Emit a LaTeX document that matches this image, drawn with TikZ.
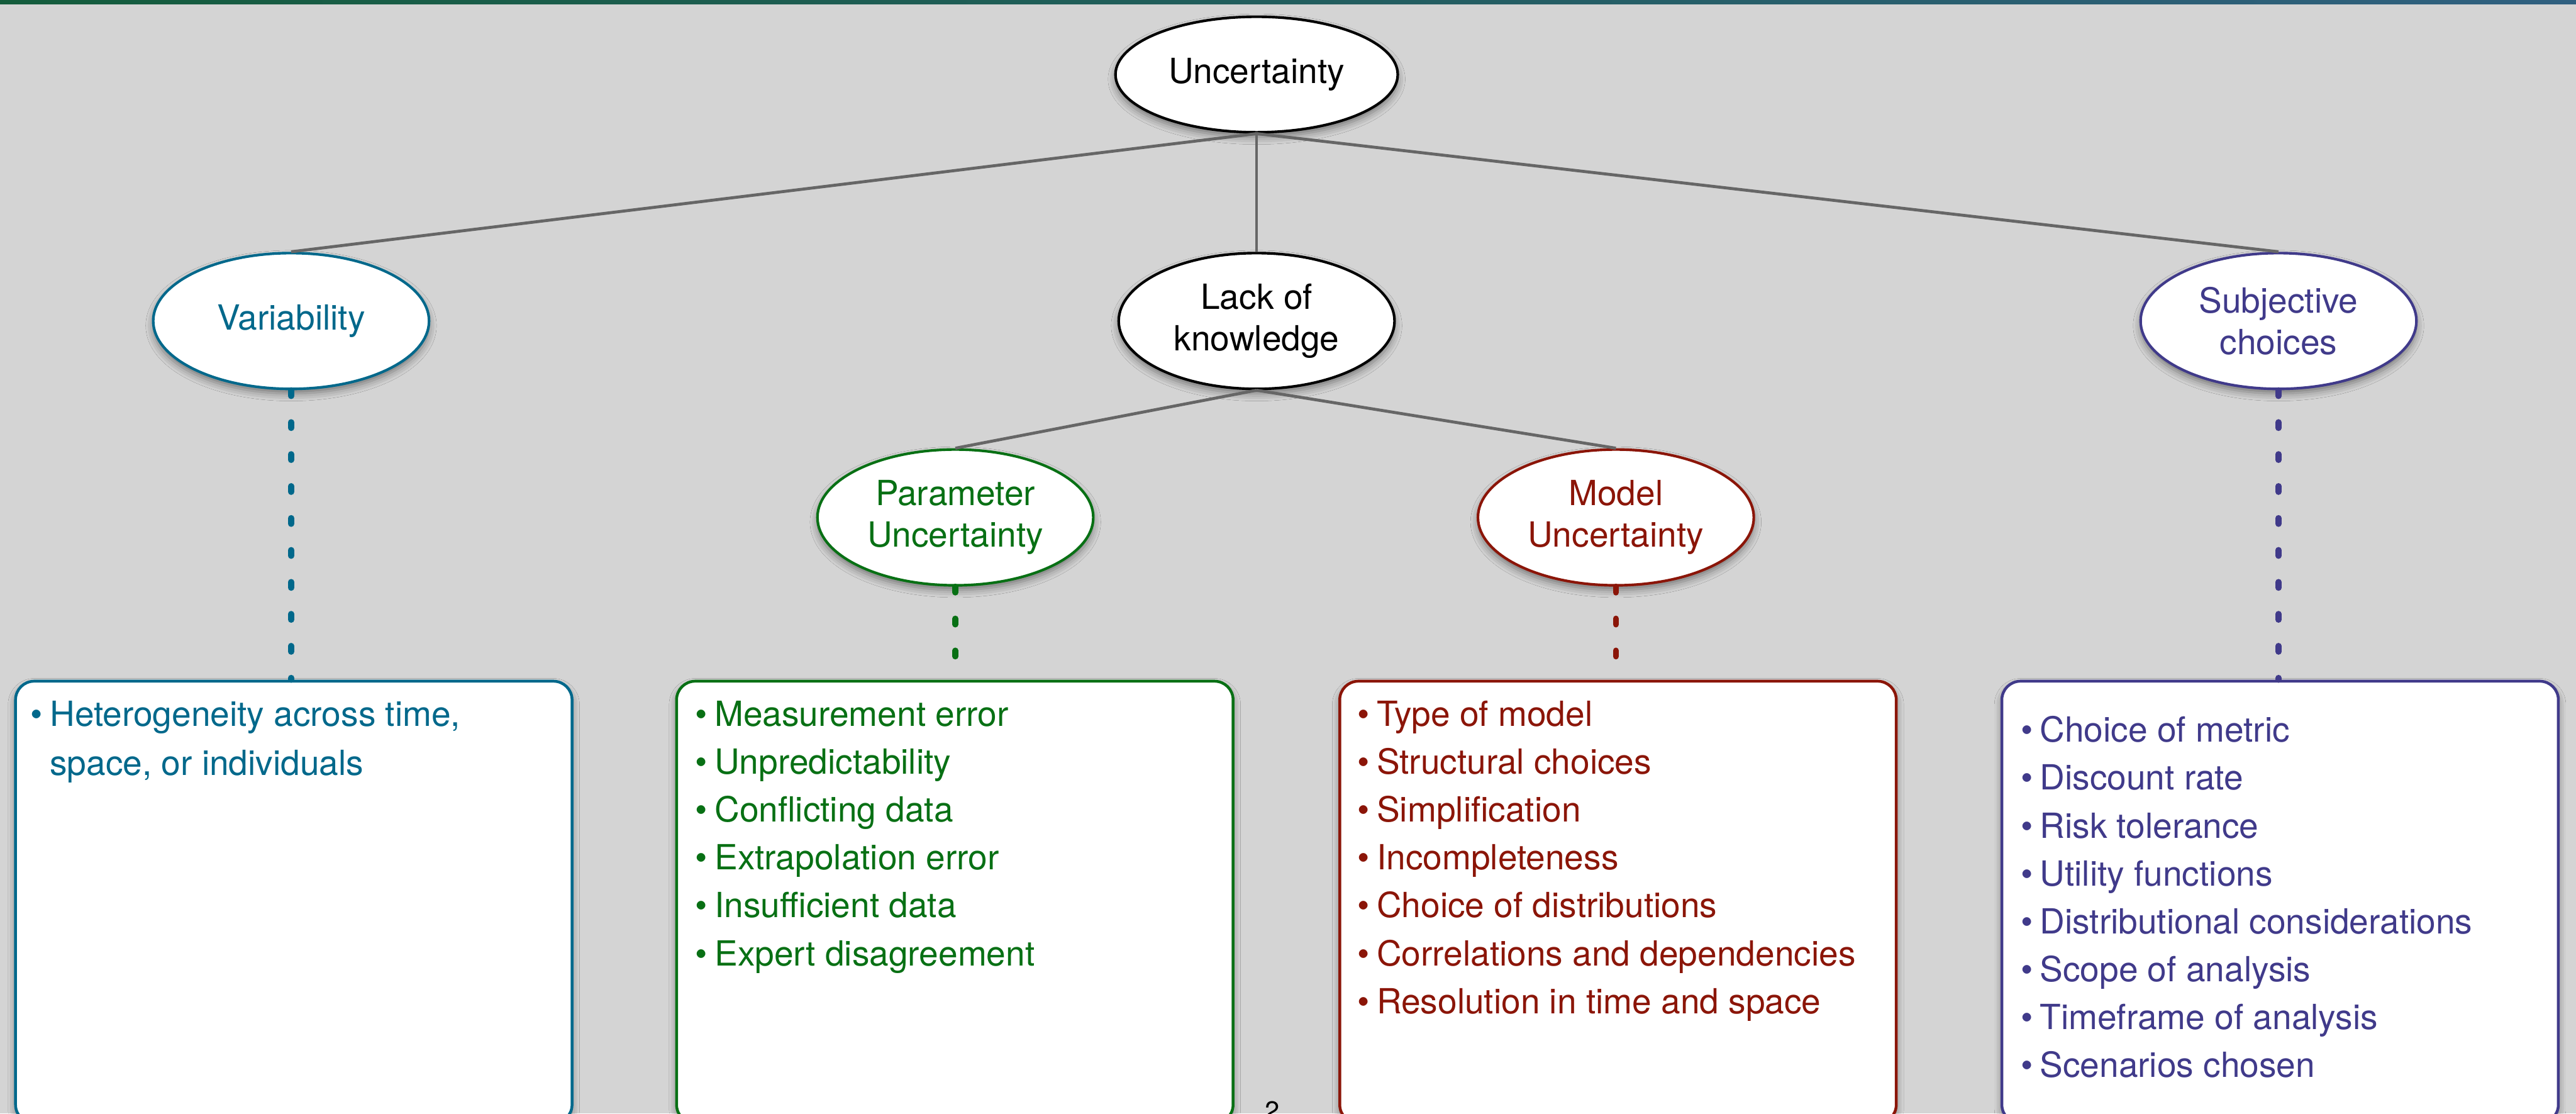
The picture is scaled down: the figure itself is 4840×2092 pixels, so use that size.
\documentclass[tikz,border=0pt]{standalone}
\usepackage{fontspec}
\setmainfont{TeX Gyre Heros}
\usetikzlibrary{shapes.geometric,shadows.blur}

\definecolor{pagebg}{RGB}{212,212,212}
\definecolor{barleft}{RGB}{20,92,60}
\definecolor{barright}{RGB}{48,96,128}
\definecolor{linkgray}{RGB}{102,102,102}
\definecolor{varcol}{RGB}{0,104,139}
\definecolor{parcol}{RGB}{8,112,20}
\definecolor{modcol}{RGB}{139,21,8}
\definecolor{subcol}{RGB}{64,58,138}

\newcommand{\bul}{\makebox[0.36cm][l]{•}}
\newcommand{\nobul}{\makebox[0.36cm][l]{}}

\tikzset{
  softshadow/.style={blur shadow={shadow xshift=0pt, shadow yshift=-2.5pt,
      shadow blur radius=4pt, shadow opacity=45}},
  oval/.style={ellipse, draw, line width=1.4pt, fill=white,
      minimum width=5.18cm, minimum height=2.55cm, inner sep=0pt,
      align=center, font=\fontsize{18.5}{22.3}\selectfont, softshadow},
  link/.style={draw=linkgray, line width=1.6pt},
  dots/.style={line width=3.2pt, line cap=round,
      dash pattern=on 0.11cm off 0.49cm},
  panel/.style={rectangle, rounded corners=0.35cm, draw, line width=1.5pt,
      fill=white, minimum width=10.45cm, minimum height=8.3cm,
      anchor=north, inner sep=0pt, softshadow},
  entry/.style={anchor=base west, inner sep=0pt,
      font=\fontsize{18.5}{25.5}\selectfont},
}

\begin{document}
\begin{tikzpicture}[x=0.01cm, y=-0.01cm]
  \clip (0,0) rectangle (4840,2092);
  \fill[pagebg] (0,0) rectangle (4840,2092);
  \shade[left color=barleft, right color=barright] (0,0) rectangle (4840,8);

  % tree of ovals
  \node[oval, minimum width=5.3cm, minimum height=2.17cm] (unc) at (2361,140) {Uncertainty};
  \node[oval, draw=varcol, text=varcol] (var) at (547,603) {Variability};
  \node[oval] (lack) at (2361,603) {Lack of\\knowledge};
  \node[oval, draw=subcol, text=subcol] (sub) at (4281,603) {Subjective\\choices};
  \node[oval, draw=parcol, text=parcol] (par) at (1795,972) {Parameter\\Uncertainty};
  \node[oval, draw=modcol, text=modcol] (mod) at (3036,972) {Model\\Uncertainty};

  % list panels
  \node[panel, draw=varcol] (varbox) at (552,1277) {};
  \node[panel, draw=parcol] (parbox) at (1794,1277) {};
  \node[panel, draw=modcol] (modbox) at (3040,1277) {};
  \node[panel, draw=subcol] (subbox) at (4284,1277) {};

  % tree links
  \draw[link] (unc.south) -- (var.north);
  \draw[link] (unc.south) -- (lack.north);
  \draw[link] (unc.south) -- (sub.north);
  \draw[link] (lack.south) -- (par.north);
  \draw[link] (lack.south) -- (mod.north);

  % dotted leads to the panels
  \draw[dots, varcol] (var.south) -- (var.south |- varbox.north);
  \draw[dots, parcol] (par.south) -- (par.south |- parbox.north);
  \draw[dots, modcol] (mod.south) -- (mod.south |- modbox.north);
  \draw[dots, subcol] (sub.south) -- (sub.south |- subbox.north);

  % panel contents
  \node[entry, text=varcol] (v1) at (57,1364) {\bul Heterogeneity across time,};
  \node[entry, text=varcol] (v2) at (57,1456) {\nobul space, or individuals};

  \foreach \t [count=\i] in {Measurement error, Unpredictability, Conflicting data,
      Extrapolation error, Insufficient data, Expert disagreement}
    \node[entry, text=parcol] (p\i) at (1306,{1364+(\i-1)*90}) {\bul\t};

  \foreach \t [count=\i] in {Type of model, Structural choices, Simplification,
      Incompleteness, Choice of distributions, Correlations and dependencies,
      Resolution in time and space}
    \node[entry, text=modcol] (m\i) at (2550,{1364+(\i-1)*90}) {\bul\t};

  \foreach \t [count=\i] in {Choice of metric, Discount rate, Risk tolerance,
      Utility functions, Distributional considerations, Scope of analysis,
      Timeframe of analysis, Scenarios chosen}
    \node[entry, text=subcol] (s\i) at (3796,{1394+(\i-1)*90}) {\bul\t};

  % slide number
  \node[anchor=base, inner sep=0pt, font=\fontsize{14}{16}\selectfont] (pagenum) at (2391,2104) {2};
\end{tikzpicture}
\end{document}
